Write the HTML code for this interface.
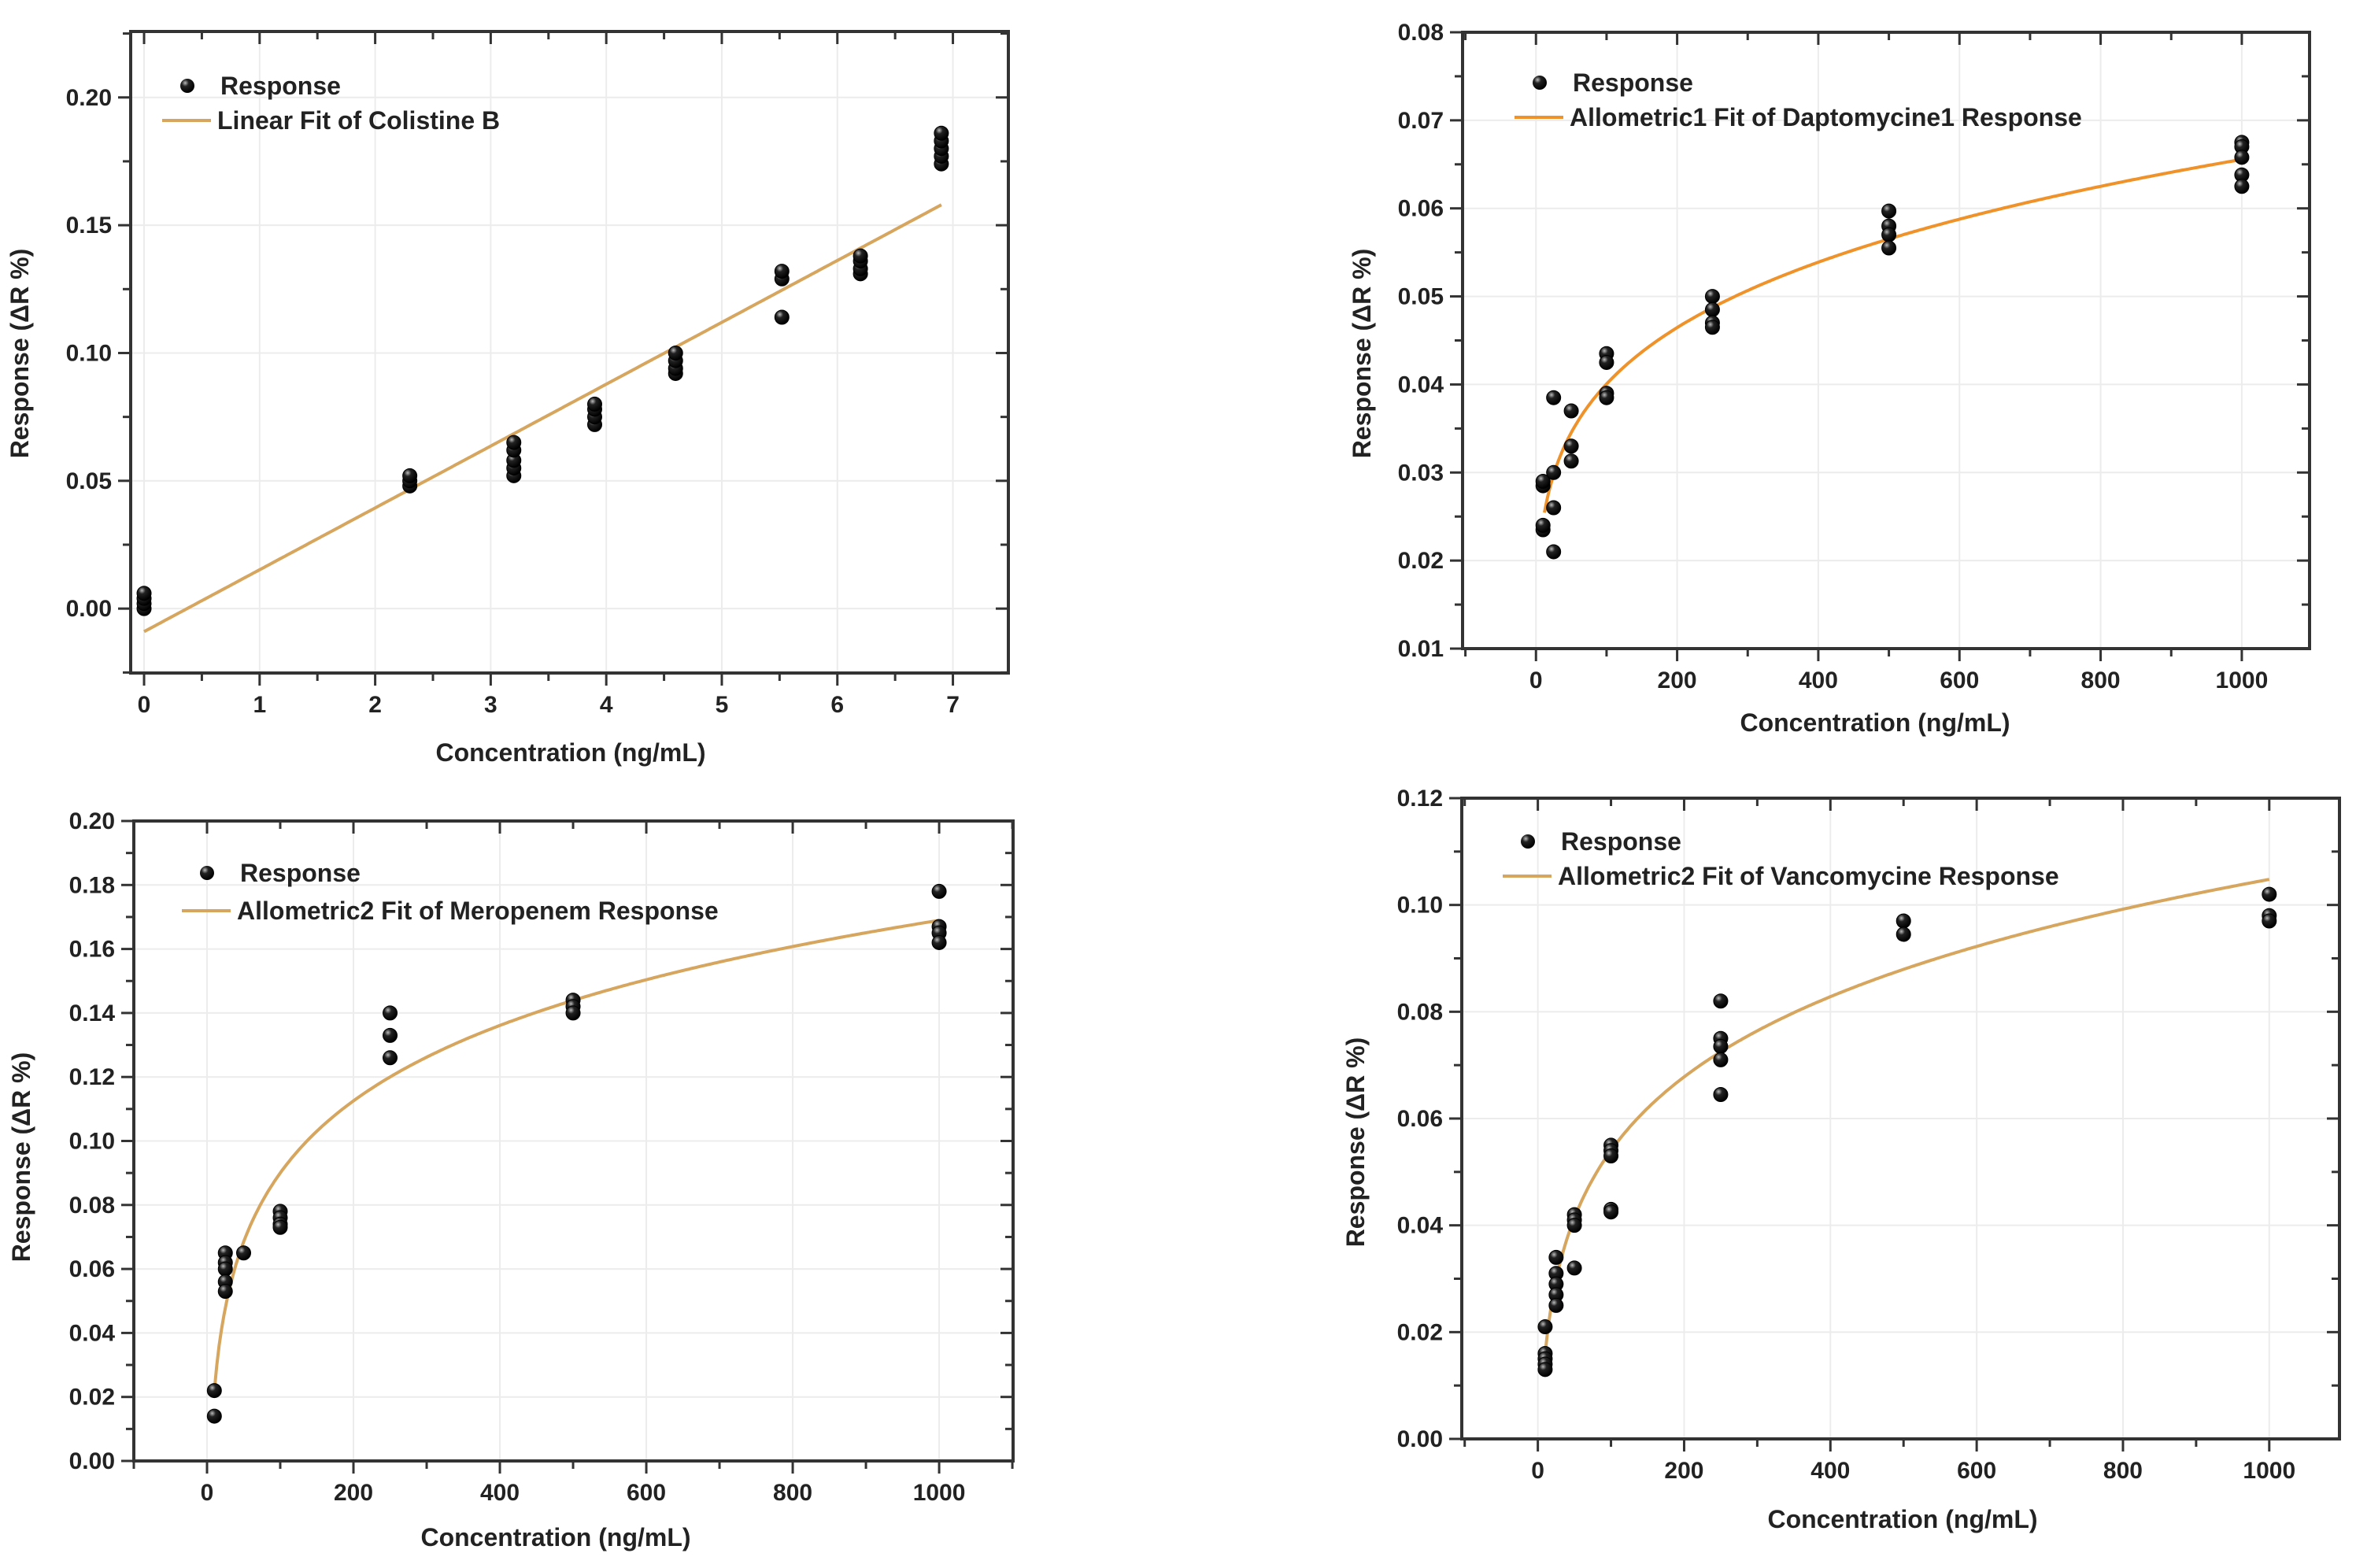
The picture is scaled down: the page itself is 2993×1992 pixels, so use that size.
<!DOCTYPE html>
<html><head><meta charset="utf-8"><style>
html,body{margin:0;padding:0;background:#fff;}
svg{display:block;font-family:"Liberation Sans",sans-serif;}
</style></head><body>
<svg id="chart" width="2993" height="1992" viewBox="0 0 2993 1992" xmlns="http://www.w3.org/2000/svg">
<defs><radialGradient id="ball" cx="0.35" cy="0.3" r="0.7"><stop offset="0" stop-color="#bbb"/><stop offset="0.35" stop-color="#222"/><stop offset="1" stop-color="#000"/></radialGradient></defs>
</svg>
<script>
// Panel 1 data (Colistine B)
const p1X = [0,0,0,0, 2.3,2.3,2.3, 3.2,3.2,3.2,3.2,3.2, 3.9,3.9,3.9,3.9, 4.6,4.6,4.6,4.6, 5.52,5.52,5.52, 6.2,6.2,6.2,6.2, 6.9,6.9,6.9,6.9,6.9];
const p1Y = [0,0.002,0.004,0.006, 0.048,0.050,0.052, 0.052,0.055,0.058,0.062,0.065, 0.072,0.075,0.078,0.080, 0.092,0.094,0.097,0.100, 0.114,0.129,0.132, 0.131,0.133,0.136,0.138, 0.174,0.177,0.180,0.183,0.186];
const p1Fit = [-0.009, 0.0242]; // intercept, slope
const p1XTicks = [0,1,2,3,4,5,6,7];
const p1YTicks = [0.00,0.05,0.10,0.15,0.20];
// Panel 2 data (Daptomycine)
const p2X = [10,10,10,10, 25,25,25,25, 50,50,50, 100,100,100,100, 250,250,250,250, 500,500,500,500, 1000,1000,1000,1000,1000];
const p2Y = [0.0235,0.024,0.0285,0.029, 0.0385,0.030,0.026,0.021, 0.037,0.033,0.0313, 0.0435,0.0425,0.039,0.0385, 0.050,0.0485,0.047,0.0465, 0.0597,0.058,0.057,0.0555, 0.0675,0.067,0.0658,0.0638,0.0625];
const p2Fit = [0, 0.01495, 0.214]; // a + b*x^c
const p2XTicks = [0,200,400,600,800,1000];
const p2YTicks = [0.01,0.02,0.03,0.04,0.05,0.06,0.07,0.08];
// Panel 3 data (Meropenem)
const p3X = [10,10, 25,25,25,25,25, 50, 100,100,100,100, 250,250,250, 500,500,500, 1000,1000,1000,1000];
const p3Y = [0.022,0.014, 0.065,0.062,0.060,0.056,0.053, 0.065, 0.078,0.076,0.074,0.073, 0.140,0.133,0.126, 0.144,0.142,0.140, 0.178,0.167,0.165,0.162];
const p3Fit = [-0.399, 0.3625, 0.065];
const p3XTicks = [0,200,400,600,800,1000];
const p3YTicks = [0.00,0.02,0.04,0.06,0.08,0.10,0.12,0.14,0.16,0.18,0.20];
// Panel 4 data (Vancomycine)
const p4X = [10,10,10,10,10, 25,25,25,25,25, 50,50,50,50, 100,100,100,100,100, 250,250,250,250,250, 500,500, 1000,1000,1000];
const p4Y = [0.021,0.016,0.015,0.014,0.013, 0.034,0.031,0.029,0.027,0.025, 0.042,0.041,0.040,0.032, 0.055,0.054,0.053,0.043,0.0425, 0.082,0.075,0.0735,0.071,0.0645, 0.097,0.0945, 0.102,0.098,0.097];
const p4Fit = [-0.0982, 0.0856, 0.125];
const p4XTicks = [0,200,400,600,800,1000];
const p4YTicks = [0.00,0.02,0.04,0.06,0.08,0.10,0.12];

const NS = "http://www.w3.org/2000/svg";
const svg = document.getElementById('chart');
function mk(tag, attrs, parent, text){
  const e = document.createElementNS(NS, tag);
  for (const k in attrs) e.setAttribute(k, attrs[k]);
  if (text !== undefined) e.textContent = text;
  (parent||svg).appendChild(e); return e;
}
const panels = [
 {id:'colistine', L:166,R:1281,T:40,B:855, x0:-0.116,x1:7.48, y0:-0.0252,y1:0.2258, X:p1X,Y:p1Y, xt:p1XTicks, yt:p1YTicks, xminor:0.5, yminor:0.025, dec:2, lin:p1Fit, fitFrom:0, fitTo:6.9, color:'#d6a55e',
  legY:[109,153], legX:206, xt2:[725,967], yt2:[36,449], fitName:'Linear Fit of Colistine B'},
 {id:'daptomycine', L:1858,R:2934,T:41,B:824, x0:-104,x1:1096, y0:0.01,y1:0.08, X:p2X,Y:p2Y, xt:p2XTicks, yt:p2YTicks, xminor:100, yminor:0.005, dec:2, allo:p2Fit, fitFrom:12, fitTo:1000, color:'#f0922a',
  legY:[105,149], legX:1924, xt2:[2382,929], yt2:[1741,449], fitName:'Allometric1 Fit of Daptomycine1 Response'},
 {id:'meropenem', L:170,R:1287,T:1043,B:1856, x0:-100,x1:1101, y0:0,y1:0.2, X:p3X,Y:p3Y, xt:p3XTicks, yt:p3YTicks, xminor:100, yminor:0.01, dec:2, allo:p3Fit, fitFrom:10, fitTo:1000, color:'#d6a55e',
  legY:[1109,1157], legX:231, xt2:[706,1964], yt2:[38,1470], fitName:'Allometric2 Fit of Meropenem Response'},
 {id:'vancomycine', L:1857,R:2972,T:1014,B:1828, x0:-104,x1:1096, y0:0,y1:0.12, X:p4X,Y:p4Y, xt:p4XTicks, yt:p4YTicks, xminor:100, yminor:0.01, dec:2, allo:p4Fit, fitFrom:10, fitTo:1000, color:'#d6a55e',
  legY:[1069,1113], legX:1909, xt2:[2417,1941], yt2:[1733,1451], fitName:'Allometric2 Fit of Vancomycine Response'}
];
panels.forEach(p=>{
  const g = mk('g',{});
  
  
  const sx = v => p.L + (v-p.x0)/(p.x1-p.x0)*(p.R-p.L);
  const sy = v => p.B - (v-p.y0)/(p.y1-p.y0)*(p.B-p.T);
  p.xt.forEach(v=>{ const l=mk('line',{x1:sx(v),x2:sx(v),y1:p.T,y2:p.B,stroke:'#ececec','stroke-width':2},g);
      });
  p.yt.forEach(v=>{ const l=mk('line',{x1:p.L,x2:p.R,y1:sy(v),y2:sy(v),stroke:'#ececec','stroke-width':2},g);
      });
  const fr = mk('rect',{x:p.L,y:p.T,width:p.R-p.L,height:p.B-p.T,fill:'none',stroke:'#333','stroke-width':4},g);
   
  const xs = Math.ceil(p.x0/p.xminor)*p.xminor;
  for (let v=xs; v<=p.x1+1e-9; v+=p.xminor){
    const major = p.xt.some(t=>Math.abs(t-v)<1e-6);
    const len = major?16:10;
    mk('line',{x1:sx(v),x2:sx(v),y1:p.B,y2:p.B+len,stroke:'#333','stroke-width':3},g);
    mk('line',{x1:sx(v),x2:sx(v),y1:p.T,y2:p.T+len,stroke:'#333','stroke-width':3},g);
  }
  p.xt.forEach(v=>{ const t=mk('text',{x:sx(v),y:p.B+50,'text-anchor':'middle','font-size':30,'font-weight':'bold',fill:'#222'},g,String(v));
      });
  const ys = Math.ceil((p.y0-1e-9)/p.yminor)*p.yminor;
  for (let v=ys; v<=p.y1+1e-9; v+=p.yminor){
    const major = p.yt.some(t=>Math.abs(t-v)<1e-6);
    const len = major?16:10;
    mk('line',{x1:p.L-len,x2:p.L,y1:sy(v),y2:sy(v),stroke:'#333','stroke-width':3},g);
    mk('line',{x1:p.R-len,x2:p.R,y1:sy(v),y2:sy(v),stroke:'#333','stroke-width':3},g);
  }
  p.yt.forEach(v=>{ const t=mk('text',{x:p.L-24,y:sy(v)+10,'text-anchor':'end','font-size':30,'font-weight':'bold',fill:'#222'},g,v.toFixed(p.dec));
      });
  const xt = mk('text',{x:p.xt2[0],y:p.xt2[1],'text-anchor':'middle','font-size':32,'font-weight':'bold',fill:'#222'},g,'Concentration (ng/mL)');
   
  const yt = mk('text',{x:p.yt2[0],y:p.yt2[1],'text-anchor':'middle','font-size':32,'font-weight':'bold',fill:'#222',transform:`rotate(-90 ${p.yt2[0]} ${p.yt2[1]})`},g,'Response (\u0394R %)');
   
  let d='';
  for (let i=0;i<=300;i++){
    const x = p.fitFrom + (p.fitTo-p.fitFrom)*i/300;
    const y = p.lin ? p.lin[0]+p.lin[1]*x : p.allo[0]+p.allo[1]*Math.pow(x,p.allo[2]);
    d += (i?'L':'M')+sx(x).toFixed(1)+','+sy(y).toFixed(1);
  }
  const fit = mk('path',{d:d,fill:'none',stroke:p.color,'stroke-width':4},g);
   
  p.X.forEach((x,i)=>{
    const c = mk('circle',{cx:sx(x),cy:sy(p.Y[i]),r:9,fill:'url(#ball)',stroke:'#000','stroke-width':1},g);
     
  });
  const lg = mk('g',{},g);
   
  const lm = mk('circle',{cx:p.legX+32,cy:p.legY[0],r:9,fill:'url(#ball)'},lg);
   
  const t1 = mk('text',{x:p.legX+74,y:p.legY[0]+11,'font-size':32,'font-weight':'bold',fill:'#222'},lg,'Response');
   
  const ll = mk('line',{x1:p.legX,x2:p.legX+62,y1:p.legY[1],y2:p.legY[1],stroke:p.color,'stroke-width':4},lg);
   
  const t2 = mk('text',{x:p.legX+70,y:p.legY[1]+11,'font-size':32,'font-weight':'bold',fill:'#222'},lg,p.fitName);
   
});
</script>
</body></html>
